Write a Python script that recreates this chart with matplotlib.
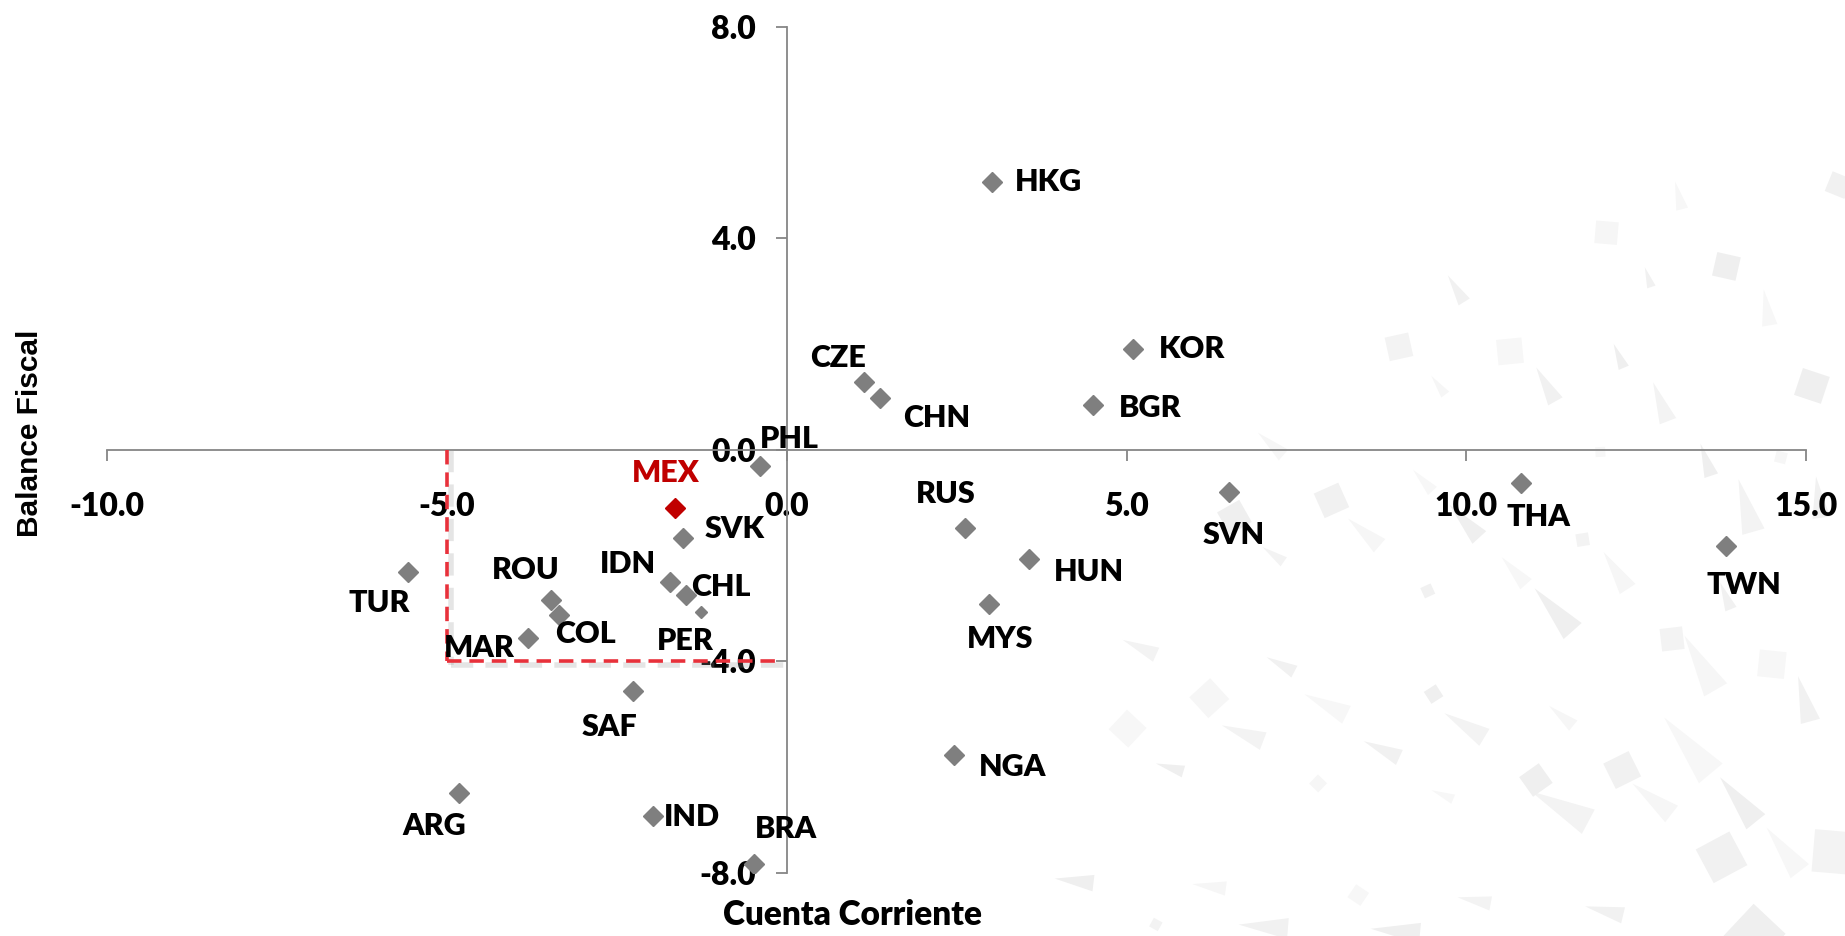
import math

import matplotlib
matplotlib.use('Agg')
from matplotlib import pyplot as plt
from matplotlib.patches import Polygon

# Cuenta corriente vs balance fiscal (% del PIB)
countries = ['HKG', 'KOR', 'BGR', 'CZE', 'CHN', 'PHL', 'MEX', 'SVK', 'IDN', 'CHL', 'PER',
             'ROU', 'COL', 'MAR', 'TUR', 'SAF', 'ARG', 'IND', 'BRA', 'RUS', 'HUN', 'MYS',
             'NGA', 'SVN', 'THA', 'TWN']
current_account = [3.02, 5.10, 4.51, 1.13, 1.37, -0.39, -1.64, -1.52, -1.72, -1.48, -1.26,
                   -3.47, -3.35, -3.80, -5.57, -2.26, -4.82, -1.97, -0.48, 2.62, 3.57, 2.98,
                   2.46, 6.50, 10.81, 13.82]
fiscal_balance = [5.07, 1.91, 0.85, 1.29, 0.98, -0.31, -1.09, -1.67, -2.49, -2.74, -3.07,
                  -2.83, -3.12, -3.56, -2.31, -4.56, -6.48, -6.92, -7.83, -1.47, -2.07, -2.91,
                  -5.76, -0.80, -0.62, -1.82]

x_ticks = [-10, -5, 0, 5, 10, 15]
y_ticks = [-8, -4, 0, 4, 8]

# thresholds drawn as a dashed box
ca_limit = -5.0
fb_limit = -4.0

# label offsets in points (dx, dy) from each marker
label_offsets = {
    'HKG': (41, 0), 'KOR': (42, 0), 'BGR': (41, -2), 'CZE': (-18, 17), 'CHN': (41, -14),
    'PHL': (21, 20), 'MEX': (-7, 25), 'SVK': (37, 7), 'IDN': (-30, 13), 'CHL': (25, 6),
    'PER': (-11, -21), 'ROU': (-18, 21), 'COL': (19, -14), 'MAR': (-35, -7), 'TUR': (-21, -22),
    'SAF': (-17, -26), 'ARG': (-18, -24), 'IND': (28, -1), 'BRA': (23, 25), 'RUS': (-14, 24),
    'HUN': (43, -9), 'MYS': (8, -25), 'NGA': (42, -9), 'SVN': (4, -31), 'THA': (12, -25),
    'TWN': (13, -28),
}

GREY = '#7F7F7F'
RED = '#C00000'
AXIS = '#868686'
FONT = 'Lato'

fig = plt.figure(figsize=(18.45, 9.36), dpi=100)

# faint geometric sunburst in the lower right corner
bg = fig.add_axes([0, 0, 1, 1], zorder=-1)
bg.set_xlim(0, 1845)
bg.set_ylim(0, 936)
bg.axis('off')
cx, cy = 1880, -40
shades = ['#F3F3F3', '#F6F6F6', '#F1F1F1', '#F7F7F7', '#EFEFEF']
for ring in range(2, 13):
    r = ring * 66
    n = 3 + ring
    for k in range(n):
        if (ring * 2 + k) % 3 == 1:
            continue
        ang = math.radians(93 + (k + 0.5 * (ring % 2)) * 86 / n)
        px, py = cx + r * math.cos(ang), cy + r * math.sin(ang)
        if px > 1845 or py < 0:
            continue
        s = 7 + (ring * 3 + k * 5) % 14 + max(0, 8 - ring) * 2
        col = shades[(ring + k * 3) % len(shades)]
        if (ring + k) % 3 == 0:
            rot = ang + math.radians(20)
            pts = [(px + s * math.cos(rot + a), py + s * math.sin(rot + a))
                   for a in (0, math.pi / 2, math.pi, 3 * math.pi / 2)]
        else:
            ux, uy = math.cos(ang), math.sin(ang)
            tip = (px + ux * s * 2.6, py + uy * s * 2.6)
            pts = [tip, (px - uy * s * 0.55, py + ux * s * 0.55),
                   (px + uy * s * 0.55, py - ux * s * 0.55)]
        bg.add_patch(Polygon(pts, closed=True, facecolor=col, edgecolor='none'))

ax = fig.add_axes([0.058, 0.0673, 0.921, 0.904])
ax.patch.set_alpha(0)
ax.set_xlim(-10, 15)
ax.set_ylim(-8, 8)

for name, x, y in zip(countries, current_account, fiscal_balance):
    color = RED if name == 'MEX' else GREY
    size = 6 if name == 'PER' else 10
    ax.plot(x, y, marker='D', markersize=size, color=color, linestyle='none', zorder=4)
    dx, dy = label_offsets[name]
    ax.annotate(name, (x, y), xytext=(dx, dy), textcoords='offset points',
                ha='center', va='center', fontsize=22, fontweight='heavy',
                family=FONT, color=color if name == 'MEX' else 'black', zorder=5)

# dashed box with a soft shadow
for off, col, lw, alpha in [(0.06, '#999999', 4, 0.25), (0, '#E8313B', 2.6, 1.0)]:
    ax.plot([ca_limit + off, ca_limit + off], [0, fb_limit - off], linestyle=(0, (4, 2.2)),
            color=col, linewidth=lw, alpha=alpha, zorder=3)
    ax.plot([ca_limit + off, -0.1 + off], [fb_limit - off, fb_limit - off],
            linestyle=(0, (4, 2.2)), color=col, linewidth=lw, alpha=alpha, zorder=3)

# axes crossing at the origin
for side in ['top', 'right']:
    ax.spines[side].set_visible(False)
ax.spines['left'].set_position(('data', 0))
ax.spines['bottom'].set_position(('data', 0))
for side in ['left', 'bottom']:
    ax.spines[side].set_color(AXIS)
    ax.spines[side].set_linewidth(1.3)

ax.set_xticks(x_ticks)
ax.set_yticks(y_ticks)
ax.set_xticklabels(['{:.1f}'.format(v) for v in x_ticks])
ax.set_yticklabels(['{:.1f}'.format(v) for v in y_ticks])
ax.tick_params(axis='x', direction='out', length=8, width=1.3, color=AXIS, pad=22)
ax.tick_params(axis='y', direction='out', length=8, width=1.3, color=AXIS, pad=14)
for lab in ax.get_xticklabels() + ax.get_yticklabels():
    lab.set_fontfamily(FONT)
    lab.set_fontweight('heavy')
    lab.set_fontsize(23)

fig.text(0.462, 0.022, 'Cuenta Corriente', ha='center', va='center',
         fontsize=24, fontweight='heavy', family=FONT)
fig.text(0.016, 0.537, 'Balance Fiscal', ha='center', va='center', rotation=90,
         fontsize=21.5, fontweight='bold', family='Liberation Sans')

fig.savefig('out.png', dpi=100)
